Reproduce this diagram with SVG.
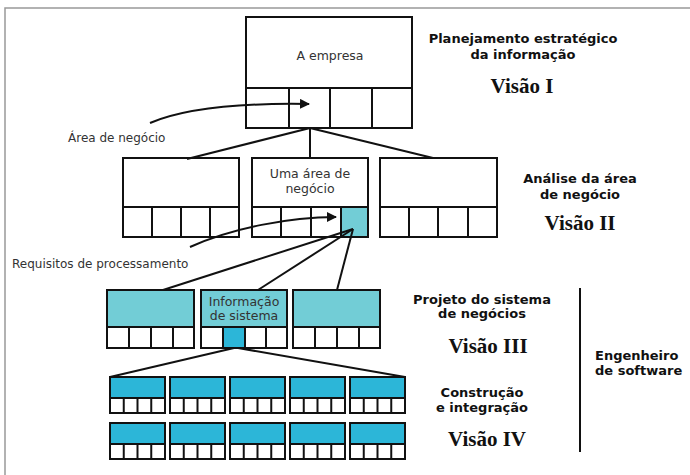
<svg xmlns="http://www.w3.org/2000/svg" width="690" height="475" viewBox="0 0 690 475">
<defs>
<style>
.box{fill:#fff;stroke:#111;stroke-width:2}
.lt{fill:#72cdd6}
.dk{fill:#2cb6d8}
.ln{fill:none;stroke:#111;stroke-width:2}
.nt{font-family:"DejaVu Sans",sans-serif;font-size:12.5px;fill:#333;text-anchor:middle}
.lb{font-family:"DejaVu Sans",sans-serif;font-size:12px;fill:#333}
.rt{font-family:"DejaVu Sans",sans-serif;font-weight:bold;font-size:13px;fill:#111;text-anchor:middle}
.rs{font-family:"DejaVu Sans",sans-serif;font-weight:bold;font-size:13px;fill:#111;text-anchor:start}
.vs{font-family:"Liberation Serif",serif;font-weight:bold;font-size:21px;fill:#111;text-anchor:middle}
</style>
<marker id="ah" viewBox="0 0 10 10" refX="9" refY="5" markerWidth="5" markerHeight="5" orient="auto">
<path d="M0,0 L10,5 L0,10 z" fill="#111"/>
</marker>
<g id="mini">
<rect x="0" y="0" width="55" height="36" class="box"/>
<rect x="0" y="0" width="55" height="21" class="dk" stroke="#111" stroke-width="2"/>
<line x1="0" y1="21" x2="55" y2="21" stroke="#111" stroke-width="2"/>
<line x1="13.75" y1="21" x2="13.75" y2="36" stroke="#111" stroke-width="2"/>
<line x1="27.5" y1="21" x2="27.5" y2="36" stroke="#111" stroke-width="2"/>
<line x1="41.25" y1="21" x2="41.25" y2="36" stroke="#111" stroke-width="2"/>
</g>
</defs>
<rect width="690" height="475" fill="#fff"/>
<path d="M5,475 V8 H690" fill="none" stroke="#999" stroke-width="1.5"/>

<g id="empresa">
<rect x="246" y="17" width="166" height="111" class="box"/>
<path d="M246,88 H412 M289,88 V128 M330,88 V128 M372,88 V128" class="ln"/>
<text x="330" y="60" class="nt" font-size="13">A empresa</text>
</g>

<g id="area-left">
<rect x="123" y="158" width="116" height="79" class="box"/>
<path d="M123,207 H239 M152,207 V237 M181,207 V237 M210,207 V237" class="ln"/>
</g>
<g id="area-mid">
<rect x="252" y="158" width="116" height="79" class="box"/>
<rect x="341" y="207" width="27" height="30" class="lt"/>
<path d="M252,207 H368 M281,207 V237 M311,207 V237 M341,207 V237" class="ln"/>
<rect x="252" y="158" width="116" height="79" fill="none" stroke="#111" stroke-width="2"/>
<text x="310" y="178" class="nt" font-size="13">Uma área de</text>
<text x="310" y="193" class="nt" font-size="13">negócio</text>
</g>
<g id="area-right">
<rect x="380" y="158" width="117" height="79" class="box"/>
<path d="M380,207 H497 M409,207 V237 M438,207 V237 M468,207 V237" class="ln"/>
</g>

<g id="sis-left">
<rect x="107" y="290" width="87" height="58" class="box"/>
<rect x="107" y="290" width="87" height="37" class="lt"/>
<path d="M107,327 H194 M129,327 V348 M151,327 V348 M173,327 V348" class="ln"/>
<rect x="107" y="290" width="87" height="58" fill="none" stroke="#111" stroke-width="2"/>
</g>
<g id="sis-mid">
<rect x="201" y="290" width="86" height="58" class="box"/>
<rect x="201" y="290" width="86" height="37" class="lt"/>
<rect x="223" y="327" width="22" height="21" class="dk"/>
<path d="M201,327 H287 M223,327 V348 M245,327 V348 M266,327 V348" class="ln"/>
<rect x="201" y="290" width="86" height="58" fill="none" stroke="#111" stroke-width="2"/>
<text x="244" y="306" class="nt" font-size="12">Informação</text>
<text x="244" y="320" class="nt" font-size="12">de sistema</text>
</g>
<g id="sis-right">
<rect x="293" y="290" width="87" height="58" class="box"/>
<rect x="293" y="290" width="87" height="37" class="lt"/>
<path d="M293,327 H380 M315,327 V348 M337,327 V348 M359,327 V348" class="ln"/>
<rect x="293" y="290" width="87" height="58" fill="none" stroke="#111" stroke-width="2"/>
</g>

<g id="row4">
<use href="#mini" x="110" y="377"/>
<use href="#mini" x="170" y="377"/>
<use href="#mini" x="230" y="377"/>
<use href="#mini" x="290" y="377"/>
<use href="#mini" x="350" y="377"/>
</g>
<g id="row5">
<use href="#mini" x="110" y="423"/>
<use href="#mini" x="170" y="423"/>
<use href="#mini" x="230" y="423"/>
<use href="#mini" x="290" y="423"/>
<use href="#mini" x="350" y="423"/>
</g>

<g id="connectors">
<line x1="310" y1="128" x2="187" y2="159" class="ln"/>
<line x1="310" y1="128" x2="310" y2="158" class="ln"/>
<line x1="310" y1="128" x2="433" y2="158" class="ln"/>
<line x1="353" y1="229" x2="163" y2="290" class="ln"/>
<line x1="353" y1="229" x2="258" y2="290" class="ln"/>
<line x1="353" y1="229" x2="337" y2="290" class="ln"/>
<line x1="234" y1="348" x2="110" y2="377" class="ln"/>
<line x1="238" y1="348" x2="405" y2="377" class="ln"/>
<path d="M150,123 C190,106 250,103 309,104" class="ln" marker-end="url(#ah)"/>
<path d="M190,247 C232,228 290,217 336,217" class="ln" marker-end="url(#ah)"/>
<line x1="580" y1="288" x2="580" y2="452" class="ln"/>
</g>

<g id="labels">
<text x="68" y="142" class="lb">Área de negócio</text>
<text x="12" y="268" class="lb">Requisitos de processamento</text>
<text x="523" y="43" class="rt">Planejamento estratégico</text>
<text x="523" y="59" class="rt">da informação</text>
<text x="522" y="93" class="vs">Visão I</text>
<text x="580" y="183" class="rt">Análise da área</text>
<text x="580" y="199" class="rt">de negócio</text>
<text x="580" y="230" class="vs">Visão II</text>
<text x="482" y="304" class="rt">Projeto do sistema</text>
<text x="482" y="318" class="rt">de negócios</text>
<text x="488" y="353" class="vs">Visão III</text>
<text x="482" y="397" class="rt">Construção</text>
<text x="482" y="412" class="rt">e integração</text>
<text x="487" y="446" class="vs">Visão IV</text>
<text x="595" y="360" class="rs">Engenheiro</text>
<text x="595" y="375" class="rs">de software</text>
</g>
</svg>
